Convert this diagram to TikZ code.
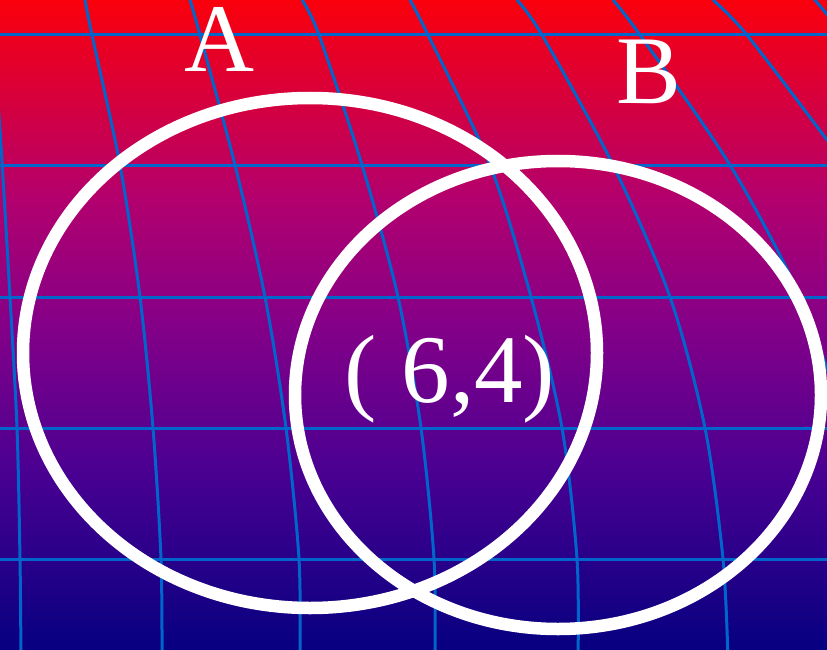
\documentclass[tikz,border=0pt]{standalone}
\usepackage{fontspec}
\setmainfont{Liberation Serif}
\usetikzlibrary{positioning}
\definecolor{topred}{RGB}{250,0,12}
\definecolor{upmagenta}{RGB}{178,0,110}
\definecolor{midpurple}{RGB}{132,0,136}
\definecolor{lowviolet}{RGB}{74,0,146}
\definecolor{lownavy}{RGB}{6,0,128}
\definecolor{gridblue}{RGB}{0,102,204}
\pgfdeclareverticalshading{skyfade}{100bp}{color(0bp)=(lownavy); color(25bp)=(lownavy);
  color(38.8bp)=(lowviolet); color(50bp)=(midpurple); color(59.6bp)=(upmagenta);
  color(75bp)=(topred); color(100bp)=(topred)}

\begin{document}
\begin{tikzpicture}[x=1pt,y=-1pt,
  gridline/.style={draw=gridblue,line width=3pt},
  ring/.style={draw=white,line width=12.5pt},
  lab/.style={text=white,inner sep=0pt,anchor=base,text height=66pt,text depth=0pt,
    font=\fontsize{97}{97}\selectfont}]
\clip (0,0) rectangle (827,650);
\shade[shading=skyfade] (0,0) rectangle (827,650);
% horizontal grid
\foreach \y in {35,165,297,428,559}
  \draw[gridline] (-10,\y) -- (840,\y);
% bent vertical grid
\draw[gridline] plot[smooth] coordinates {(-8,30) (0,130) (10,297) (17,428) (20,559) (21,660)};
\draw[gridline] plot[smooth] coordinates {(85,0) (92,35) (120,165) (140,297) (153,428) (161,559) (162,660)};
\draw[gridline] plot[smooth] coordinates {(190,0) (200,35) (235,165) (265,297) (286,428) (299,559) (300,660)};
\draw[gridline] plot[smooth] coordinates {(302,0) (319,35) (362,165) (398,297) (421,428) (434,559) (435,660)};
\draw[gridline] plot[smooth] coordinates {(410,0) (428,35) (490,165) (531,297) (562,428) (577,559) (578,660)};
\draw[gridline] plot[smooth] coordinates {(517,0) (542,35) (613,165) (670,297) (705,428) (723,559) (728,660)};
\draw[gridline] plot[smooth] coordinates {(613,0) (640,35) (730,165) (800,297) (845,428) (870,559) (875,660)};
\draw[gridline] plot[smooth] coordinates {(713,0) (747,35) (827,140) (870,200)};
\draw[gridline] plot[smooth] coordinates {(806,-10) (815,0) (840,30)};
% the two sets
\draw[ring] (310,353) ellipse [x radius=287,y radius=255];
\draw[ring] (558,395) ellipse [x radius=263,y radius=234];
\node[lab] (setA) at (220,72) {A};
\node[lab] (setB) at (649,104) {B};
\node[lab] (pair) at (450,402) {( 6,4)};
\end{tikzpicture}
\end{document}
